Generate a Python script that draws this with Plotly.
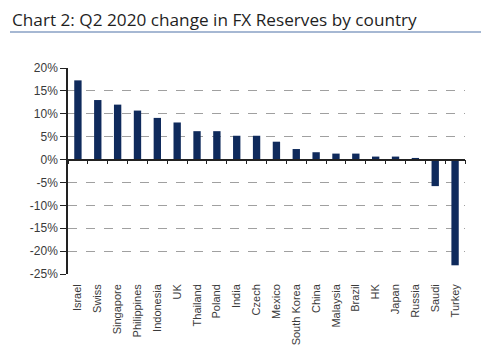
import plotly.graph_objects as go

countries = ["Israel", "Swiss", "Singapore", "Philippines", "Indonesia", "UK",
             "Thailand", "Poland", "India", "Czech", "Mexico", "South Korea",
             "China", "Malaysia", "Brazil", "HK", "Japan", "Russia", "Saudi", "Turkey"]
change_pct = [17.3, 13.0, 12.0, 10.7, 9.1, 8.1, 6.2, 6.2, 5.2, 5.2, 3.9, 2.3,
              1.6, 1.3, 1.3, 0.65, 0.65, 0.35, -5.8, -23.1]
y_ticks = [20, 15, 10, 5, 0, -5, -10, -15, -20, -25]
y_ticklabels = [f"{v}%" for v in y_ticks]

Y_MIN, Y_MAX = -25, 20
n = len(countries)
boundaries = [i - 0.5 for i in range(n + 1)]

# the page body adds an 8px offset, so the figure is sized to fit the window
W, H = 481, 356
ML, MT, MR, MB = 60, 60, 24, 90
PW, PH = W - ML - MR, H - MT - MB

fig = go.Figure()
fig.add_trace(go.Bar(x=list(range(n)), y=change_pct, marker_color="#0f2a5c",
                     marker_line_width=0, width=0.37, hoverinfo="x+y"))
# invisible helper trace for the zero-line axis
fig.add_trace(go.Scatter(x=[boundaries[0], boundaries[-1]], y=[0, 0], xaxis="x2",
                         mode="lines", line=dict(color="rgba(0,0,0,0)"),
                         showlegend=False, hoverinfo="skip"))

x_font = dict(family="Liberation Sans, Arial, sans-serif", size=11, color="#3a3a3a")
y_font = dict(family="Liberation Sans, Arial, sans-serif", size=12, color="#3a3a3a")

fig.update_layout(
    width=W, height=H,
    margin=dict(l=ML, r=MR, t=MT, b=MB),
    paper_bgcolor="white", plot_bgcolor="white",
    showlegend=False, bargap=0.63,
    title=dict(text="Chart 2: Q2 2020 change in FX Reserves by country",
               x=4 / W, xanchor="left", y=1 - 12 / H, yanchor="middle",
               font=dict(family="Open Sans, Noto Sans, sans-serif", size=17.2, color="#1f1f1f")),
    xaxis=dict(range=[boundaries[0], boundaries[-1]], tickmode="array",
               tickvals=list(range(n)), ticktext=countries, tickangle=-90,
               showline=False, ticks="", showgrid=False, zeroline=False,
               tickfont=x_font, ticklabelstandoff=7),
    xaxis2=dict(range=[boundaries[0], boundaries[-1]], overlaying="x", anchor="free",
                position=(0 - Y_MIN) / (Y_MAX - Y_MIN), side="bottom",
                showline=True, linecolor="#222222", linewidth=1.5,
                ticks="outside", ticklen=4, tickcolor="#222222", tickwidth=1,
                tickmode="array", tickvals=boundaries, showticklabels=False,
                showgrid=False, zeroline=False),
    yaxis=dict(range=[Y_MIN, Y_MAX], tickmode="array", tickvals=y_ticks,
               ticktext=y_ticklabels, showline=True, linecolor="#222222", linewidth=1.5,
               ticks="outside", ticklen=6, tickcolor="#222222",
               showgrid=True, gridcolor="#a0a0a0", griddash="dash", gridwidth=1,
               zeroline=False, tickfont=y_font),
    shapes=[dict(type="line", xref="paper", yref="paper",
                 x0=-(ML - 2) / PW, x1=1 + MR / PW,
                 y0=1 + (MT - 24) / PH, y1=1 + (MT - 24) / PH,
                 line=dict(color="#4f72a8", width=1.2))],
)

fig.write_html("out.html")
